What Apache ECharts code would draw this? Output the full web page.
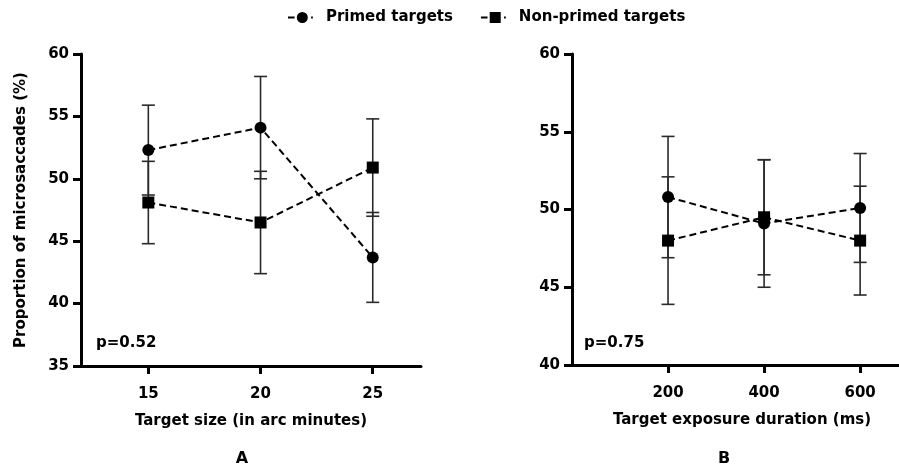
<!DOCTYPE html>
<html>
<head>
<meta charset="utf-8">
<script src="https://cdn.jsdelivr.net/npm/echarts@6/dist/echarts.min.js"></script>
<style>
  html, body { margin: 0; padding: 0; background: #fff; }
  #main { width: 899px; height: 468px; }
</style>
</head>
<body>
<div id="main"></div>
<script>
// panel A: target size (arc minutes)
var sizes = [15, 20, 25];
var primedSize = [52.3, 54.1, 43.7];
var primedSizeErr = [3.6, 4.1, 3.6];
var nonPrimedSize = [48.1, 46.5, 50.9];
var nonPrimedSizeErr = [3.3, 4.1, 3.9];

// panel B: exposure duration (ms)
var durations = [200, 400, 600];
var primedDur = [50.8, 49.1, 50.1];
var primedDurErr = [3.9, 4.1, 3.5];
var nonPrimedDur = [48.0, 49.5, 48.0];
var nonPrimedDurErr = [4.1, 3.7, 3.5];

var sizeTicks = [15, 20, 25];
var durTicks = [200, 400, 600];

var FONT = '"DejaVu Sans", sans-serif';

function pairs(xs, ys) {
  return xs.map(function (x, i) { return [x, ys[i]]; });
}
function errData(xs, ys, es) {
  return xs.map(function (x, i) { return [x, ys[i] - es[i], ys[i] + es[i]]; });
}
function errBars(name, idx, xs, ys, es) {
  return {
    type: 'custom',
    name: name,
    xAxisIndex: idx,
    yAxisIndex: idx,
    z: 1,
    silent: true,
    data: errData(xs, ys, es),
    renderItem: function (params, api) {
      var lo = api.coord([api.value(0), api.value(1)]);
      var hi = api.coord([api.value(0), api.value(2)]);
      var w = 6.5;
      var st = { stroke: '#2a2a2a', lineWidth: 1.6 };
      return {
        type: 'group',
        children: [
          { type: 'line', shape: { x1: lo[0], y1: lo[1], x2: hi[0], y2: hi[1] }, style: st },
          { type: 'line', shape: { x1: lo[0] - w, y1: lo[1], x2: lo[0] + w, y2: lo[1] }, style: st },
          { type: 'line', shape: { x1: hi[0] - w, y1: hi[1], x2: hi[0] + w, y2: hi[1] }, style: st }
        ]
      };
    }
  };
}
function lineSeries(name, idx, xs, ys, sym) {
  return {
    type: 'line',
    name: name,
    xAxisIndex: idx,
    yAxisIndex: idx,
    z: 3,
    data: pairs(xs, ys),
    symbol: sym,
    symbolSize: 12,
    itemStyle: { color: '#000' },
    lineStyle: { color: '#000', width: 2, type: [7, 4] }
  };
}

var axisLine = { show: true, onZero: false, lineStyle: { color: '#000', width: 3 } };
var tickStyle = { show: true, length: 8, lineStyle: { color: '#000', width: 3 } };
var labelStyle = { color: '#000', fontWeight: 'bold', fontSize: 15, fontFamily: FONT };
var nameStyle = { color: '#000', fontWeight: 'bold', fontSize: 15, fontFamily: FONT };

var circleIcon = 'path://M0,4.2h6v1.6h-6z M8,5a5,5 0 1,0 10,0a5,5 0 1,0 -10,0z M21,4.2h1.6v1.6h-1.6z';
var squareIcon = 'path://M0,4.2h6v1.6h-6z M8,0h10v10h-10z M21,4.2h1.6v1.6h-1.6z';

var chart = echarts.init(document.getElementById('main'));
chart.setOption({
  backgroundColor: '#fff',
  animation: false,
  color: ['#000', '#000'],
  legend: {
    top: 5,
    left: 283,
    itemGap: 28,
    itemWidth: 25,
    itemHeight: 11,
    textStyle: { color: '#000', fontWeight: 'bold', fontSize: 15, fontFamily: FONT, padding: [0, 0, 0, 8] },
    data: [
      { name: 'Primed targets', icon: circleIcon, itemStyle: { color: '#000' } },
      { name: 'Non-primed targets', icon: squareIcon, itemStyle: { color: '#000' } }
    ]
  },
  grid: [
    { left: 81, width: 340, top: 54, bottom: 102, outerBoundsMode: 'none' },
    { left: 572, width: 340, top: 54, bottom: 103, outerBoundsMode: 'none' }
  ],
  xAxis: [
    {
      type: 'value', gridIndex: 0, min: 12, max: 27.15,
      name: 'Target size (in arc minutes)', nameLocation: 'middle', nameGap: 48,
      nameTextStyle: nameStyle,
      axisLine: axisLine,
      axisTick: { show: true, length: 8, customValues: sizeTicks, lineStyle: { color: '#000', width: 3 } },
      axisLabel: { color: '#000', fontWeight: 'bold', fontSize: 15, fontFamily: FONT, margin: 21, customValues: sizeTicks },
      splitLine: { show: false }
    },
    {
      type: 'value', gridIndex: 1, min: 0, max: 708,
      name: 'Target exposure duration (ms)', nameLocation: 'middle', nameGap: 48,
      nameTextStyle: nameStyle,
      axisLine: axisLine,
      axisTick: { show: true, length: 8, customValues: durTicks, lineStyle: { color: '#000', width: 3 } },
      axisLabel: { color: '#000', fontWeight: 'bold', fontSize: 15, fontFamily: FONT, margin: 21, customValues: durTicks },
      splitLine: { show: false }
    }
  ],
  yAxis: [
    {
      type: 'value', gridIndex: 0, min: 35, max: 60, interval: 5,
      name: 'Proportion of microsaccades (%)', nameLocation: 'middle', nameGap: 52,
      nameTextStyle: nameStyle,
      axisLine: axisLine, axisTick: tickStyle,
      axisLabel: Object.assign({ margin: 12 }, labelStyle),
      splitLine: { show: false }
    },
    {
      type: 'value', gridIndex: 1, min: 40, max: 60, interval: 5,
      axisLine: axisLine, axisTick: tickStyle,
      axisLabel: Object.assign({ margin: 12 }, labelStyle),
      splitLine: { show: false }
    }
  ],
  graphic: [
    { type: 'text', left: 96, top: 336, style: { text: 'p=0.52', fill: '#000', font: 'bold 15px ' + FONT } },
    { type: 'text', left: 584, top: 336, style: { text: 'p=0.75', fill: '#000', font: 'bold 15px ' + FONT } },
    { type: 'text', x: 242, y: 459, style: { text: 'A', fill: '#000', font: 'bold 16px ' + FONT, align: 'center', verticalAlign: 'middle' } },
    { type: 'text', x: 724, y: 459, style: { text: 'B', fill: '#000', font: 'bold 16px ' + FONT, align: 'center', verticalAlign: 'middle' } }
  ],
  series: [
    errBars('Primed targets', 0, sizes, primedSize, primedSizeErr),
    errBars('Non-primed targets', 0, sizes, nonPrimedSize, nonPrimedSizeErr),
    errBars('Primed targets', 1, durations, primedDur, primedDurErr),
    errBars('Non-primed targets', 1, durations, nonPrimedDur, nonPrimedDurErr),
    lineSeries('Primed targets', 0, sizes, primedSize, 'circle'),
    lineSeries('Non-primed targets', 0, sizes, nonPrimedSize, 'rect'),
    lineSeries('Primed targets', 1, durations, primedDur, 'circle'),
    lineSeries('Non-primed targets', 1, durations, nonPrimedDur, 'rect')
  ]
});
</script>
</body>
</html>
